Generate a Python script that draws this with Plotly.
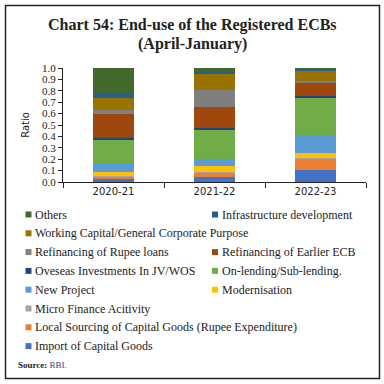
import plotly.graph_objects as go

# ---- data ----
years = ["2020-21", "2021-22", "2022-23"]
series_names = [
    "Import of Capital Goods",
    "Local Sourcing of Capital Goods (Rupee Expenditure)",
    "Micro Finance Acitivity",
    "Modernisation",
    "New Project",
    "On-lending/Sub-lending.",
    "Oveseas Investments In JV/WOS",
    "Refinancing of Earlier ECB",
    "Refinancing of Rupee loans",
    "Working Capital/General Corporate Purpose",
    "Infrastructure development",
    "Others",
]
import_cg = [0.035, 0.044, 0.108]
local_src = [0.012, 0.040, 0.096]
micro_fin = [0.005, 0.003, 0.009]
modernisation = [0.040, 0.053, 0.041]
new_project = [0.065, 0.064, 0.157]
on_lending = [0.220, 0.254, 0.329]
overseas = [0.012, 0.014, 0.015]
refin_ecb = [0.205, 0.184, 0.111]
refin_rupee = [0.040, 0.151, 0.023]
working_cap = [0.105, 0.140, 0.088]
infra = [0.030, 0.018, 0.014]
others = [0.231, 0.035, 0.009]
series_values = [import_cg, local_src, micro_fin, modernisation, new_project,
                 on_lending, overseas, refin_ecb, refin_rupee, working_cap,
                 infra, others]
y_ticks = [0.0, 0.1, 0.2, 0.3, 0.4, 0.5, 0.6, 0.7, 0.8, 0.9, 1.0]

# ---- style ----
colors = ["#4472C4", "#ED7D31", "#A5A5A5", "#FFC000", "#5B9BD5", "#70AD47",
          "#264478", "#9E480E", "#7F7F7F", "#997300", "#255E91", "#43682B"]
SERIF = "Liberation Serif"
SANS = "DejaVu Sans"

W, H = 384, 384
L, R, T, B = 63, 18, 68, 202
pw, ph = W - L - R, H - T - B


def px_x(px):
    return (px - L) / pw


def px_y(py):
    return (H - B - py) / ph


fig = go.Figure()
for name, vals, col in zip(series_names, series_values, colors):
    fig.add_trace(go.Bar(x=years, y=vals, name=name, marker_color=col,
                         marker_line_width=0, showlegend=False))

# manual legend layout: (row, column) for each series
legend_pos = {
    "Others": (0, 0), "Infrastructure development": (0, 1),
    "Working Capital/General Corporate Purpose": (1, 0),
    "Refinancing of Rupee loans": (2, 0), "Refinancing of Earlier ECB": (2, 1),
    "Oveseas Investments In JV/WOS": (3, 0), "On-lending/Sub-lending.": (3, 1),
    "New Project": (4, 0), "Modernisation": (4, 1),
    "Micro Finance Acitivity": (5, 0),
    "Local Sourcing of Capital Goods (Rupee Expenditure)": (6, 0),
    "Import of Capital Goods": (7, 0),
}
row_y0, row_dy = 214.5, 18.8
col_sq = [25.5, 212]
shapes = []
annotations = []
for name, col in zip(series_names, colors):
    r, c = legend_pos[name]
    cy = row_y0 + r * row_dy
    sx = col_sq[c]
    shapes.append(dict(type="rect", xref="paper", yref="paper",
                       x0=px_x(sx), x1=px_x(sx + 6), y0=px_y(cy + 3), y1=px_y(cy - 3),
                       fillcolor=col, line_width=0))
    annotations.append(dict(text=name, xref="paper", yref="paper",
                            x=px_x(sx + 7.5), y=px_y(cy), xanchor="left", yanchor="middle",
                            showarrow=False, font=dict(family=SERIF, size=12, color="#222")))

# frame
shapes.append(dict(type="rect", xref="paper", yref="paper",
                   x0=px_x(5.5), x1=px_x(379.5), y0=px_y(378.5), y1=px_y(5.5),
                   line=dict(color="#222", width=1.5), fillcolor="rgba(0,0,0,0)"))

# titles
annotations.append(dict(text="<b>Chart 54: End-use of the Registered ECBs</b>",
                        xref="paper", yref="paper", x=px_x(192), y=px_y(25),
                        xanchor="center", yanchor="middle", showarrow=False,
                        font=dict(family=SERIF, size=16, color="#222")))
annotations.append(dict(text="<b>(April-January)</b>",
                        xref="paper", yref="paper", x=px_x(192), y=px_y(44),
                        xanchor="center", yanchor="middle", showarrow=False,
                        font=dict(family=SERIF, size=16, color="#222")))
annotations.append(dict(text="<b>Source:</b> <span style='color:#2F3F8F'>RBI.</span>",
                        xref="paper", yref="paper", x=px_x(16), y=px_y(365),
                        xanchor="left", yanchor="middle", showarrow=False,
                        font=dict(family=SERIF, size=9, color="#222")))

fig.update_layout(
    barmode="stack", bargap=0.59,
    width=W, height=H,
    margin=dict(l=L, r=R, t=T, b=B),
    paper_bgcolor="white", plot_bgcolor="white",
    shapes=shapes, annotations=annotations,
    showlegend=False,
)
fig.update_xaxes(showline=True, linecolor="#222", linewidth=1,
                 ticks="outside", tickson="boundaries", ticklen=5, tickcolor="#222",
                 tickfont=dict(family=SANS, size=10, color="#222"))
fig.update_yaxes(range=[0, 1.0], tickvals=y_ticks, ticktext=[f"{v:.1f}" for v in y_ticks],
                 showline=True, linecolor="#222", linewidth=1, showgrid=False,
                 ticks="outside", ticklen=4, tickcolor="#222",
                 tickfont=dict(family=SERIF, size=11, color="#222"),
                 title=dict(text="Ratio", font=dict(family=SANS, size=10, color="#222"), standoff=10))

fig.write_html("out.html", config={"displayModeBar": False},
               post_script="document.body.style.margin='0';document.body.style.overflow='hidden';")
